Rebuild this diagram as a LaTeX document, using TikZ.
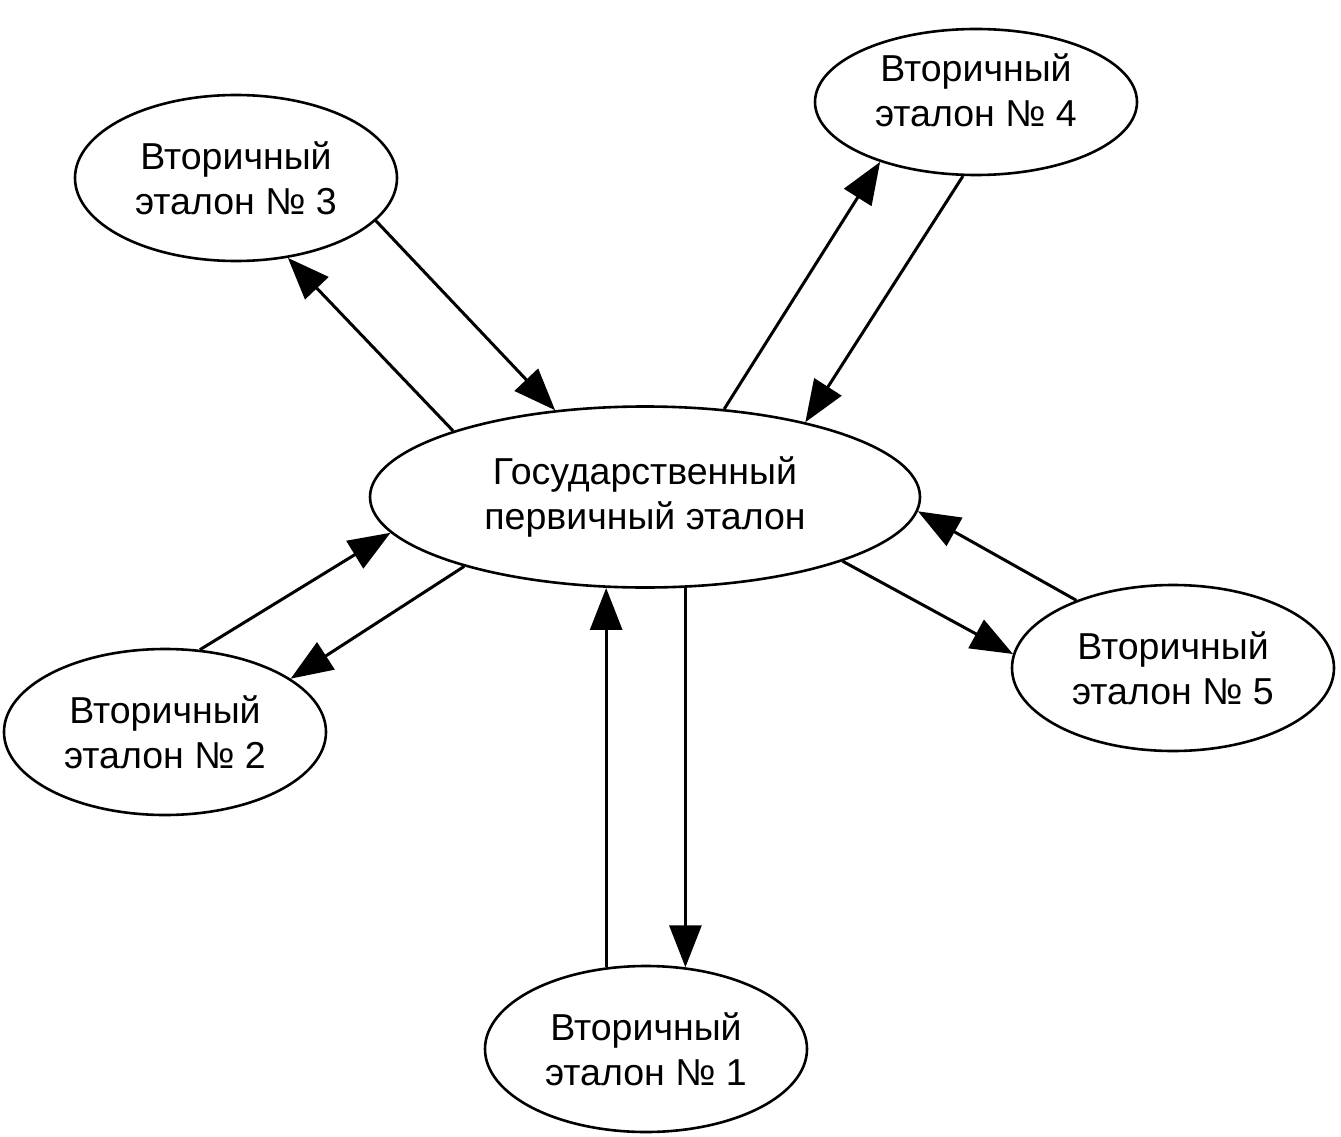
\documentclass[tikz,border=0pt]{standalone}
\usepackage{fontspec}
\setmainfont{Liberation Sans}
\usetikzlibrary{shapes.geometric,arrows.meta}

\begin{document}
\begin{tikzpicture}[x=1pt,y=-1pt,
  etalon/.style={ellipse, draw, line width=2.6pt, inner sep=0pt,
    minimum width=322pt, minimum height=166pt, align=center,
    font=\fontsize{37.5}{45}\selectfont},
  link/.style={line width=3pt, -{Triangle[length=42pt,width=32pt]}}]
  \useasboundingbox (0,0) rectangle (1341,1137);

  \node[etalon, minimum width=550pt, minimum height=181pt] (main) at (645,497) {Государственный\\первичный эталон};
  \node[etalon] (e1) at (646,1049) {Вторичный\\эталон № 1};
  \node[etalon] (e2) at (165,732) {Вторичный\\эталон № 2};
  \node[etalon] (e3) at (236,178) {Вторичный\\эталон № 3};
  \node[etalon, minimum height=146pt, text depth=24pt] (e4) at (976,102) {Вторичный\\эталон № 4};
  \node[etalon] (e5) at (1173,668) {Вторичный\\эталон № 5};

  % Left top pair
  \draw[link] (main.161) -- (e3.-57);
  \draw[link] (e3.-17) -- (main.136);

  % Right top pair
  \draw[link] (main.48) -- (e4.-148);
  \draw[link] (e4.-100) -- (main.25);

  % Left bottom pair
  \draw[link] (e2.67) -- (main.-172);
  \draw[link] (main.-159) -- (e2.23);

  % Bottom pair
  \draw[link] (main.-66) -- (main.-66 |- e1.64);
  \draw[link] (e1.116) -- (e1.116 |- main.-112);

  % Right bottom pair
  \draw[link] (main.-18) -- (e5.175);
  \draw[link] (e5.145) -- (main.-3);
\end{tikzpicture}
\end{document}
